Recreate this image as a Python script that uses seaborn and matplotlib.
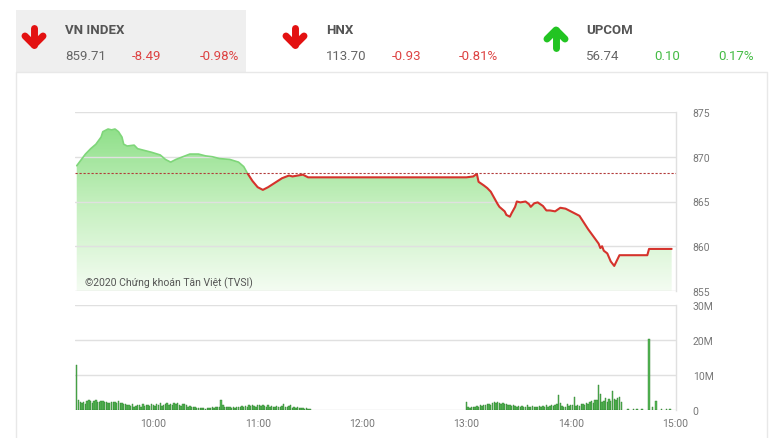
import numpy as np
import matplotlib
matplotlib.use("Agg")
import matplotlib.pyplot as plt
from matplotlib.colors import LinearSegmentedColormap
from matplotlib.patches import Rectangle
import seaborn as sns

# header boxes
index_names = ["VN INDEX", "HNX", "UPCOM"]
last_values = ["859.71", "113.70", "56.74"]
changes = ["-8.49", "-0.93", "0.10"]
pct_changes = ["-0.98%", "-0.81%", "0.17%"]
directions = ["down", "down", "up"]

ref_price = 868.20

# VN-Index intraday
price_times = ["09:16", "09:21", "09:24", "09:27", "09:30", "09:31", "09:34", "09:36",
               "09:38", "09:40", "09:42", "09:43", "09:45", "09:49", "09:51", "09:55",
               "09:59", "10:04", "10:07", "10:10", "10:13", "10:17", "10:21", "10:26",
               "10:30", "10:34", "10:38", "10:44", "10:49", "10:52", "10:54", "10:57",
               "11:00", "11:03", "11:06", "11:10", "11:14", "11:18", "11:20", "11:23",
               "11:26", "11:29", "11:30", "13:00", "13:04", "13:06", "13:07", "13:10",
               "13:12", "13:14", "13:16", "13:18", "13:19", "13:22", "13:23", "13:25",
               "13:26", "13:28", "13:29", "13:31", "13:34", "13:36", "13:37", "13:39",
               "13:41", "13:44", "13:46", "13:48", "13:51", "13:54", "13:57", "14:00",
               "14:03", "14:05", "14:07", "14:10", "14:13", "14:16", "14:17", "14:18",
               "14:19", "14:21", "14:23", "14:25", "14:27", "14:28", "14:30", "14:44",
               "14:45", "14:58"]
prices = [869.0, 870.3, 870.9, 871.4, 872.2, 872.8, 873.1, 873.0,
          873.1, 872.8, 872.2, 871.4, 871.2, 871.3, 870.9, 870.7,
          870.5, 870.2, 869.7, 869.4, 869.7, 870.0, 870.3, 870.3,
          870.1, 870.0, 869.8, 869.7, 869.4, 868.9, 868.2, 867.3,
          866.6, 866.3, 866.6, 867.1, 867.6, 867.9, 867.8, 867.9,
          868.0, 867.7, 867.7, 867.7, 867.8, 868.1, 867.2, 866.8,
          866.5, 866.1, 865.4, 864.7, 864.4, 863.9, 863.5, 863.3,
          863.7, 864.4, 865.0, 864.9, 865.0, 864.7, 864.4, 864.8,
          864.9, 864.5, 864.0, 864.0, 863.9, 864.3, 864.2, 863.9,
          863.6, 863.4, 862.8, 861.9, 861.1, 860.3, 859.8, 860.0,
          859.5, 859.2, 858.3, 857.8, 858.6, 859.0, 859.0, 859.0,
          859.7, 859.7]

# volume per minute, millions
vol_am_start = "09:16"
vol_am = [12.8,
          2.8, 2.2, 2.0, 2.4, 1.8, 2.6, 2.9, 2.5, 2.0, 2.7, 3.0, 2.4, 2.2, 2.6, 2.5,
          2.3, 2.4, 2.0, 2.1, 2.3, 2.2, 2.4, 1.9, 2.5, 2.1, 2.0, 1.6, 1.8, 1.4, 1.5,
          1.2, 1.6, 1.0, 1.1, 1.3, 1.4, 1.0, 1.7, 1.2, 1.5, 1.3, 1.1, 1.8, 1.4, 1.2,
          1.6, 1.3, 1.9, 1.2, 1.4, 1.8, 2.0, 1.5, 1.7, 1.3, 2.1, 1.6, 1.9, 1.4, 1.2,
          1.6, 1.8, 1.3, 1.0, 1.1,
          0.9, 0.8, 1.0, 0.6, 0.5, 0.7, 0.6, 0.5, 0.4, 0.6, 0.5, 0.7, 0.8, 0.6, 0.9,
          1.0, 0.8, 3.0,
          1.5, 0.9, 1.0, 0.8, 0.9, 0.7, 0.8, 0.6, 0.9, 1.0, 0.8, 1.1, 0.9, 1.2, 1.0,
          1.3, 1.1, 1.4, 1.2, 1.0, 1.5, 1.3,
          1.2, 1.4, 1.1, 1.0, 1.3, 0.9, 1.2, 1.0, 0.8, 1.1, 0.9, 1.0, 1.2, 1.6, 1.0,
          0.8, 1.1, 1.4, 0.7, 0.9, 0.6, 0.8, 0.5, 0.7, 0.5, 0.4, 0.6, 0.4, 0.3]
vol_pm_start = "13:00"
vol_pm = [2.2,
          0.8, 0.7, 0.9, 1.0, 0.8, 1.2, 0.9, 1.5, 1.1, 1.4,
          1.3, 1.6, 1.8, 1.5, 2.0, 2.2, 2.1, 2.3, 2.0, 1.8,
          1.9, 1.6, 1.7, 1.4, 1.5, 1.2, 1.3, 1.1, 1.0, 1.2, 0.9, 1.1, 1.0, 0.8, 1.3,
          1.0, 0.9, 1.1, 0.8, 1.0, 0.9, 1.2, 1.0, 1.1, 0.9, 1.3, 1.0, 1.2, 1.5, 1.1,
          1.4, 1.6, 4.3, 2.0, 1.2, 1.0, 0.9, 1.6, 1.2, 1.5,
          1.3, 3.7, 1.1, 1.5, 1.2, 1.8, 1.6, 1.4, 2.0, 1.7,
          2.2, 2.5, 2.0, 2.8, 3.0, 7.2, 4.5, 2.4, 2.6, 3.4,
          2.2, 3.1, 2.5, 5.5, 3.2, 2.8, 3.4, 3.6, 2.4]
vol_late_times = ["14:33", "14:36", "14:38", "14:41", "14:45", "14:47", "14:49",
                  "14:52", "14:55", "14:57"]
vol_late = [0.15, 0.15, 0.3, 0.15, 20.3, 0.9, 2.7, 0.2, 0.2, 0.3]

x_tick_labels = ["10:00", "11:00", "12:00", "13:00", "14:00", "15:00"]
price_ticks = [855, 860, 865, 870, 875]
vol_ticks = [0, 10, 20, 30]
vol_tick_labels = ["0", "10M", "20M", "30M"]


def to_min(s):
    h, m = s.split(":")
    return (int(h) - 9) * 60 + int(m)


t_price = np.array([to_min(s) for s in price_times], dtype=float)
p_price = np.array(prices)
t_vol = np.concatenate([
    to_min(vol_am_start) + np.arange(len(vol_am)),
    to_min(vol_pm_start) + np.arange(len(vol_pm)),
    [to_min(s) for s in vol_late_times],
]).astype(float)
v_vol = np.array(vol_am + vol_pm + vol_late)

sns.set_style("white")
plt.rcParams["font.family"] = ["Roboto", "DejaVu Sans"]

fig = plt.figure(figsize=(7.8, 4.39), dpi=100)

# background / header, pixel coordinates
bg = fig.add_axes([0, 0, 1, 1], zorder=0)
bg.set_xlim(0, 780)
bg.set_ylim(439, 0)
bg.axis("off")
bg.add_patch(Rectangle((16, 11), 230, 62, color="#efefef", lw=0))
bg.plot([16, 16, 767, 767], [439, 73, 73, 439], color="#e8e8e8", lw=1)

name_x = [65, 326, 586]
chg_x = [132, 392, 654]
pct_x = [200, 459, 718]
arrow_x = [34, 295, 556]
for i in range(3):
    col = "#dd4242" if directions[i] == "down" else "#44bb44"
    bg.text(name_x[i], 30, index_names[i], fontsize=9.5, fontweight="bold",
            color="#555555", va="center", ha="left")
    bg.text(name_x[i], 57, last_values[i], fontsize=9.5, color="#666666",
            va="center", ha="left")
    bg.text(chg_x[i], 57, changes[i], fontsize=9.5, color=col, va="center", ha="left")
    bg.text(pct_x[i], 57, pct_changes[i], fontsize=9.5, color=col, va="center", ha="left")
    cx = arrow_x[i]
    if directions[i] == "down":
        acol = "#e31111"
        bg.plot([cx, cx], [29, 46], color=acol, lw=5, solid_capstyle="round")
        bg.plot([cx - 9, cx, cx + 9], [37, 46, 37], color=acol, lw=5,
                solid_capstyle="round", solid_joinstyle="round")
    else:
        acol = "#22c422"
        bg.plot([cx, cx], [49, 31], color=acol, lw=5, solid_capstyle="round")
        bg.plot([cx - 9, cx, cx + 9], [40, 31, 40], color=acol, lw=5,
                solid_capstyle="round", solid_joinstyle="round")

xmin, xmax = 15, 360.5
grid_col = "#e0e0e0"
lab_col = "#777777"

# price panel
axp = fig.add_axes([75 / 780, 1 - 292 / 439, 601 / 780, 179 / 439], zorder=2)
axp.patch.set_alpha(0)
cmap = LinearSegmentedColormap.from_list("g", ["#f4fcf2", "#c6f0c0", "#8ade84"])
grad = np.linspace(0, 1, 256).reshape(-1, 1)
im = axp.imshow(grad, extent=[xmin, xmax, 855, 874], origin="lower", cmap=cmap,
                aspect="auto", zorder=1)
poly = axp.fill_between(t_price, p_price, 855, color="none")
clip = poly.get_paths()[0]
im.set_clip_path(clip, transform=axp.transData)
poly.remove()

sns.lineplot(x=t_price, y=p_price, ax=axp, color="#d5332c", lw=1.5, zorder=4)
red_line = axp.lines[-1]
red_line.set_clip_path(Rectangle((xmin, 855), xmax - xmin, ref_price - 855,
                                 transform=axp.transData))
sns.lineplot(x=t_price, y=p_price, ax=axp, color="#7fd67a", lw=1.2, zorder=4)
green_line = axp.lines[-1]
green_line.set_clip_path(Rectangle((xmin, ref_price), xmax - xmin, 875 - ref_price,
                                   transform=axp.transData))
axp.axhline(ref_price, color="#b23a3a", lw=0.8, ls=(0, (2, 1.6)), zorder=5)

axp.set_xlim(xmin, xmax)
axp.set_ylim(855, 875)
axp.set_yticks(price_ticks)
axp.set_axisbelow(False)
axp.grid(True, axis="y", color=grid_col, lw=1)
axp.yaxis.tick_right()
axp.tick_params(axis="y", length=0, pad=12, labelsize=7.5, labelcolor=lab_col)
axp.tick_params(axis="x", bottom=False, labelbottom=False)
axp.set_xlabel("")
axp.set_ylabel("")
axp.text(0.017, 0.05, "©2020 Chứng khoán Tân Việt (TVSI)", transform=axp.transAxes,
         fontsize=7.5, color="#555555", va="center", ha="left", zorder=6)

# volume panel
axv = fig.add_axes([75 / 780, 1 - 411 / 439, 601 / 780, 105 / 439], zorder=2)
axv.patch.set_alpha(0)
sns.barplot(x=t_vol, y=v_vol, native_scale=True, orient="x", ax=axv, color="#55b855",
            edgecolor="#2f7f2f", linewidth=0.3, saturation=1, errorbar=None,
            width=0.8, zorder=3)
axv.set_xlim(xmin, xmax)
axv.set_ylim(0, 30)
axv.set_yticks(vol_ticks)
axv.set_yticklabels(vol_tick_labels)
axv.set_xticks([to_min(s) for s in x_tick_labels])
axv.set_xticklabels(x_tick_labels)
axv.grid(True, axis="y", color=grid_col, lw=1)
axv.set_axisbelow(True)
axv.yaxis.tick_right()
axv.tick_params(axis="y", length=0, pad=12, labelsize=7.5, labelcolor=lab_col)
axv.tick_params(axis="x", length=4, color="#cccccc", pad=2, labelsize=7.5,
                labelcolor=lab_col)
axv.set_xlabel("")
axv.set_ylabel("")

for ax in (axp, axv):
    for side in ("left", "top", "bottom"):
        ax.spines[side].set_visible(False)
    ax.spines["right"].set_visible(True)
    ax.spines["right"].set_color(grid_col)
    ax.spines["right"].set_linewidth(1)

fig.savefig("out.png", dpi=100)
